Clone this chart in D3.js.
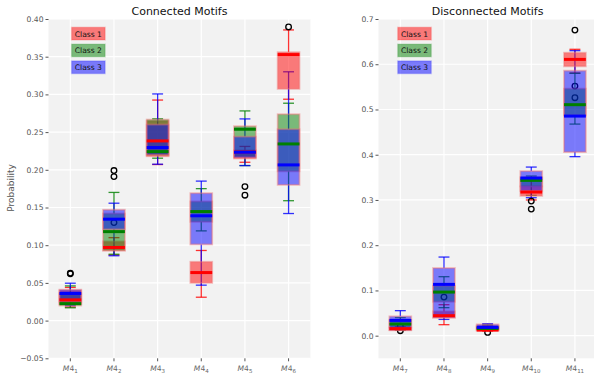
<!DOCTYPE html>
<html>
<head>
<meta charset="UTF-8"/>
<style>
  body { margin: 0; background: #fff; }
  text { font-family: "DejaVu Sans", sans-serif; }
</style>
</head>
<body>
<script src="https://cdn.jsdelivr.net/npm/d3@7"></script>
<script>
// motif probabilities per class
// each box: [lower whisker, q1, median, q3, upper whisker]

var connectedLabels = ["1", "2", "3", "4", "5", "6"];
var disconnectedLabels = ["7", "8", "9", "10", "11"];
var classNames = ["Class 1", "Class 2", "Class 3"];
var classColors = ["red", "green", "blue"];

var connectedClass1 = [
  [0.018, 0.022, 0.0275, 0.040, 0.044],
  [0.087, 0.093, 0.097, 0.105, 0.110],
  [0.207, 0.218, 0.2383, 0.265, 0.2925],
  [0.031, 0.050, 0.0637, 0.078, 0.093],
  [0.210, 0.215, 0.2235, 0.226, 0.231],
  [0.2936, 0.3073, 0.3528, 0.356, 0.3855]
];
var connectedClass2 = [
  [0.017, 0.020, 0.0225, 0.036, 0.046],
  [0.088, 0.093, 0.118, 0.142, 0.170],
  [0.2154, 0.219, 0.2241, 0.2666, 0.2676],
  [0.119, 0.131, 0.1446, 0.158, 0.175],
  [0.2056, 0.217, 0.2538, 0.2578, 0.2781],
  [0.159, 0.198, 0.2343, 0.2737, 0.2883]
];
var connectedClass3 = [
  [0.020, 0.025, 0.036, 0.041, 0.0496],
  [0.086, 0.121, 0.1345, 0.147, 0.1557],
  [0.2074, 0.220, 0.2295, 0.260, 0.3006],
  [0.047, 0.101, 0.139, 0.169, 0.185],
  [0.2056, 0.216, 0.2233, 0.244, 0.2675],
  [0.142, 0.180, 0.2065, 0.2538, 0.330]
];
var connectedFliers1 = [[], [0.130], [], [], [], [0.3895]];
var connectedFliers2 = [[0.062], [], [], [], [], []];
var connectedFliers3 = [[0.063], [0.191, 0.199], [], [], [0.1777, 0.1663], []];

var disconnectedClass1 = [
  [0.012, 0.0125, 0.0155, 0.018, 0.020],
  [0.0243, 0.040, 0.0442, 0.0537, 0.0685],
  [0.010, 0.011, 0.0124, 0.020, 0.022],
  [0.300, 0.309, 0.3175, 0.330, 0.345],
  [0.5805, 0.5953, 0.6107, 0.6255, 0.633]
];
var disconnectedClass2 = [
  [0.013, 0.018, 0.0257, 0.035, 0.040],
  [0.0619, 0.075, 0.0964, 0.110, 0.1304],
  [0.012, 0.013, 0.016, 0.022, 0.024],
  [0.310, 0.330, 0.3433, 0.350, 0.3528],
  [0.4677, 0.487, 0.5106, 0.546, 0.580]
];
var disconnectedClass3 = [
  [0.015, 0.012, 0.0338, 0.0427, 0.0553],
  [0.036, 0.040, 0.1134, 0.1495, 0.1738],
  [0.013, 0.014, 0.0183, 0.025, 0.0265],
  [0.305, 0.320, 0.3484, 0.3638, 0.3727],
  [0.3957, 0.4058, 0.4854, 0.5858, 0.630]
];
var disconnectedFliers1 = [[0.021], [0.0853], [0.0073], [], [0.5517, 0.526]];
var disconnectedFliers2 = [[0.011], [], [], [], [0.6755]];
var disconnectedFliers3 = [[], [], [], [0.2975, 0.2798], []];

var connectedTicks = [-0.05, 0, 0.05, 0.10, 0.15, 0.20, 0.25, 0.30, 0.35, 0.40];
var disconnectedTicks = [0, 0.1, 0.2, 0.3, 0.4, 0.5, 0.6, 0.7];

var svg = d3.select("body").append("svg")
  .attr("width", 594)
  .attr("height", 378);

// y label
svg.append("text")
  .attr("transform", "translate(14,188) rotate(-90)")
  .attr("text-anchor", "middle")
  .attr("font-size", 9)
  .attr("fill", "#555")
  .text("Probability");

var drawPanel = function(p) {
  var n = p.labels.length;
  var x = d3.scaleLinear().domain([0.5, n + 0.5]).range([p.left, p.left + n * 43.65]);
  var y = d3.scaleLinear().domain(p.domain).range([358.3, 19]);
  var g = svg.append("g");
  var bw = x(1.25) - x(1);   // half box width in px
  var cw = bw / 2;

  g.append("rect")
    .attr("x", x.range()[0]).attr("y", 19)
    .attr("width", x.range()[1] - x.range()[0]).attr("height", 358.3 - 19)
    .attr("fill", "#f2f2f2");

  // grid
  g.selectAll("line.hgrid").data(p.ticks).enter().append("line")
    .attr("x1", x.range()[0]).attr("x2", x.range()[1])
    .attr("y1", function(d) { return y(d); }).attr("y2", function(d) { return y(d); })
    .attr("stroke", "#fff").attr("stroke-width", 1.2);
  g.selectAll("line.vgrid").data(p.labels).enter().append("line")
    .attr("x1", function(d, i) { return x(i + 1); }).attr("x2", function(d, i) { return x(i + 1); })
    .attr("y1", 19).attr("y2", 358.3)
    .attr("stroke", "#fff").attr("stroke-width", 1.2);

  // y axis
  var ya = g.append("g")
    .attr("transform", "translate(" + x.range()[0] + ",0)")
    .call(d3.axisLeft(y).tickValues(p.ticks).tickFormat(d3.format(p.fmt)).tickSize(3).tickPadding(2));
  ya.select(".domain").remove();
  ya.selectAll("line").attr("stroke", "#555");
  ya.selectAll("text").attr("font-size", 7.6).attr("fill", "#555").attr("font-family", "DejaVu Sans");

  // x axis
  var xa = g.append("g").attr("transform", "translate(0,358.3)");
  p.labels.forEach(function(l, i) {
    xa.append("line").attr("x1", x(i + 1)).attr("x2", x(i + 1)).attr("y1", 0).attr("y2", 3)
      .attr("stroke", "#555");
    var t = xa.append("text").attr("x", x(i + 1)).attr("y", 13)
      .attr("text-anchor", "middle").attr("font-size", 7.6).attr("fill", "#666");
    t.append("tspan").attr("font-style", "italic").text("M");
    t.append("tspan").text("4");
    t.append("tspan").attr("font-size", 5.5).attr("dy", 2).text(l);
  });

  // title
  svg.append("text")
    .attr("x", (x.range()[0] + x.range()[1]) / 2).attr("y", 14.5)
    .attr("text-anchor", "middle").attr("font-size", 11).attr("fill", "#111")
    .text(p.title);

  // whiskers, caps, fliers first
  p.boxes.forEach(function(cls, c) {
    cls.forEach(function(b, i) {
      var cx = x(i + 1);
      [[b[0], b[1]], [b[3], b[4]]].forEach(function(w) {
        g.append("line").attr("x1", cx).attr("x2", cx)
          .attr("y1", y(w[0])).attr("y2", y(w[1]))
          .attr("stroke", classColors[c]).attr("stroke-width", 1.3).attr("opacity", 0.8);
      });
      [b[0], b[4]].forEach(function(v) {
        g.append("line").attr("x1", cx - cw).attr("x2", cx + cw)
          .attr("y1", y(v)).attr("y2", y(v))
          .attr("stroke", classColors[c]).attr("stroke-width", 1.3).attr("opacity", 0.8);
      });
    });
    p.fliers[c].forEach(function(f, i) {
      f.forEach(function(v) {
        g.append("circle").attr("cx", x(i + 1)).attr("cy", y(v)).attr("r", 2.8)
          .attr("fill", "none").attr("stroke", "#000").attr("stroke-width", 1.3);
      });
    });
  });

  // boxes: red, green, blue
  [0, 1, 2].forEach(function(c) {
    p.boxes[c].forEach(function(b, i) {
      var cx = x(i + 1);
      g.append("rect")
        .attr("x", cx - bw).attr("width", 2 * bw)
        .attr("y", y(b[3])).attr("height", y(b[1]) - y(b[3]))
        .attr("fill", classColors[c]).attr("fill-opacity", 0.5)
        .attr("stroke", "rgba(240,110,110,0.45)").attr("stroke-width", 1.8);
    });
  });

  // medians
  p.boxes.forEach(function(cls, c) {
    cls.forEach(function(b, i) {
      var cx = x(i + 1);
      g.append("line").attr("x1", cx - bw).attr("x2", cx + bw)
        .attr("y1", y(b[2])).attr("y2", y(b[2]))
        .attr("stroke", classColors[c]).attr("stroke-width", 3);
    });
  });

  // class legend
  var lx = x.range()[0] + 0.088 * (x.range()[1] - x.range()[0]);
  classNames.forEach(function(name, c) {
    var ly = 27.3 + c * 16.8;
    g.append("rect").attr("x", lx).attr("y", ly).attr("width", 33.6).attr("height", 12.7)
      .attr("fill", classColors[c]).attr("fill-opacity", 0.5)
      .attr("stroke", classColors[c]).attr("stroke-opacity", 0.15).attr("stroke-width", 1.5);
    g.append("text").attr("x", lx + 16.8).attr("y", ly + 9.3)
      .attr("text-anchor", "middle").attr("font-size", 7.6).attr("fill", "#111")
      .text(name);
  });
};

drawPanel({
  title: "Connected Motifs", labels: connectedLabels, left: 48.5,
  domain: [-0.05, 0.40], ticks: connectedTicks, fmt: ".2f",
  boxes: [connectedClass1, connectedClass2, connectedClass3],
  fliers: [connectedFliers1, connectedFliers2, connectedFliers3]
});
drawPanel({
  title: "Disconnected Motifs", labels: disconnectedLabels, left: 378.5,
  domain: [-0.05, 0.70], ticks: disconnectedTicks, fmt: ".1f",
  boxes: [disconnectedClass1, disconnectedClass2, disconnectedClass3],
  fliers: [disconnectedFliers1, disconnectedFliers2, disconnectedFliers3]
});
</script>
</body>
</html>
